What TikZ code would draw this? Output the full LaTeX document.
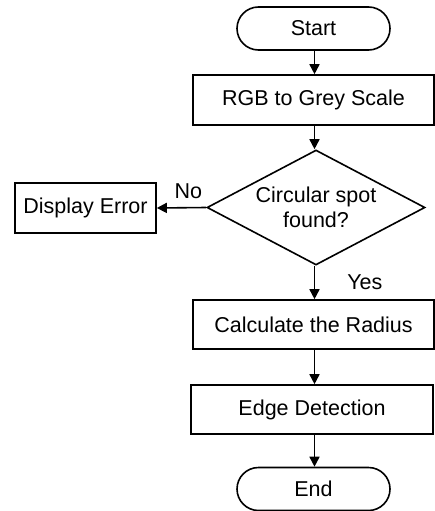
\documentclass[tikz,border=0pt]{standalone}
\usepackage{fontspec}
\setmainfont{Liberation Sans}
\usetikzlibrary{arrows.meta,shapes.geometric,shapes.misc}
\begin{document}
\begin{tikzpicture}[x=1pt,y=-1pt,
  every node/.style={font=\fontsize{21.5}{24.5}\selectfont, inner sep=0pt},
  box/.style={draw, line width=1.6pt, rectangle},
  term/.style={draw, line width=1.6pt, rounded rectangle, minimum width=153pt, minimum height=43pt},
  dec/.style={draw, line width=1.6pt, diamond, aspect=1.9, minimum width=218pt, minimum height=115pt, align=center},
  arr/.style={draw, line width=1.6pt, -{Triangle[length=10pt,width=10pt]}}]
\useasboundingbox (0,0) rectangle (434,511);
\coordinate (c) at (314.5,0);
\node[term] (start) at (313.5,28.5) {Start};
\node[box, minimum width=241pt, minimum height=50pt] (rgb) at (313.5,100) {RGB to Grey Scale};
\node[dec] (dec) at (316,207.5) {Circular spot\\found?};
\node[box, minimum width=141pt, minimum height=50pt] (err) at (85.5,208) {Display Error};
\node[box, minimum width=241pt, minimum height=49pt] (calc) at (313.5,324.5) {Calculate the Radius};
\node[box, minimum width=242pt, minimum height=49pt] (edge) at (312,409.5) {Edge Detection};
\node[term] (end) at (313.5,489) {End};
\draw[arr] (start.south -| c) -- (rgb.north -| c);
\draw[arr] (rgb.south -| c) -- (dec.north -| c);
\draw[arr] (dec.west) -- (err.east) node[pos=0.36, above=8pt] {No};
\draw[arr] (dec.south -| c) -- (calc.north -| c) node[pos=0.5, right=32pt] {Yes};
\draw[arr] (calc.south -| c) -- (edge.north -| c);
\draw[arr] (edge.south -| c) -- (end.north -| c);
\end{tikzpicture}
\end{document}
